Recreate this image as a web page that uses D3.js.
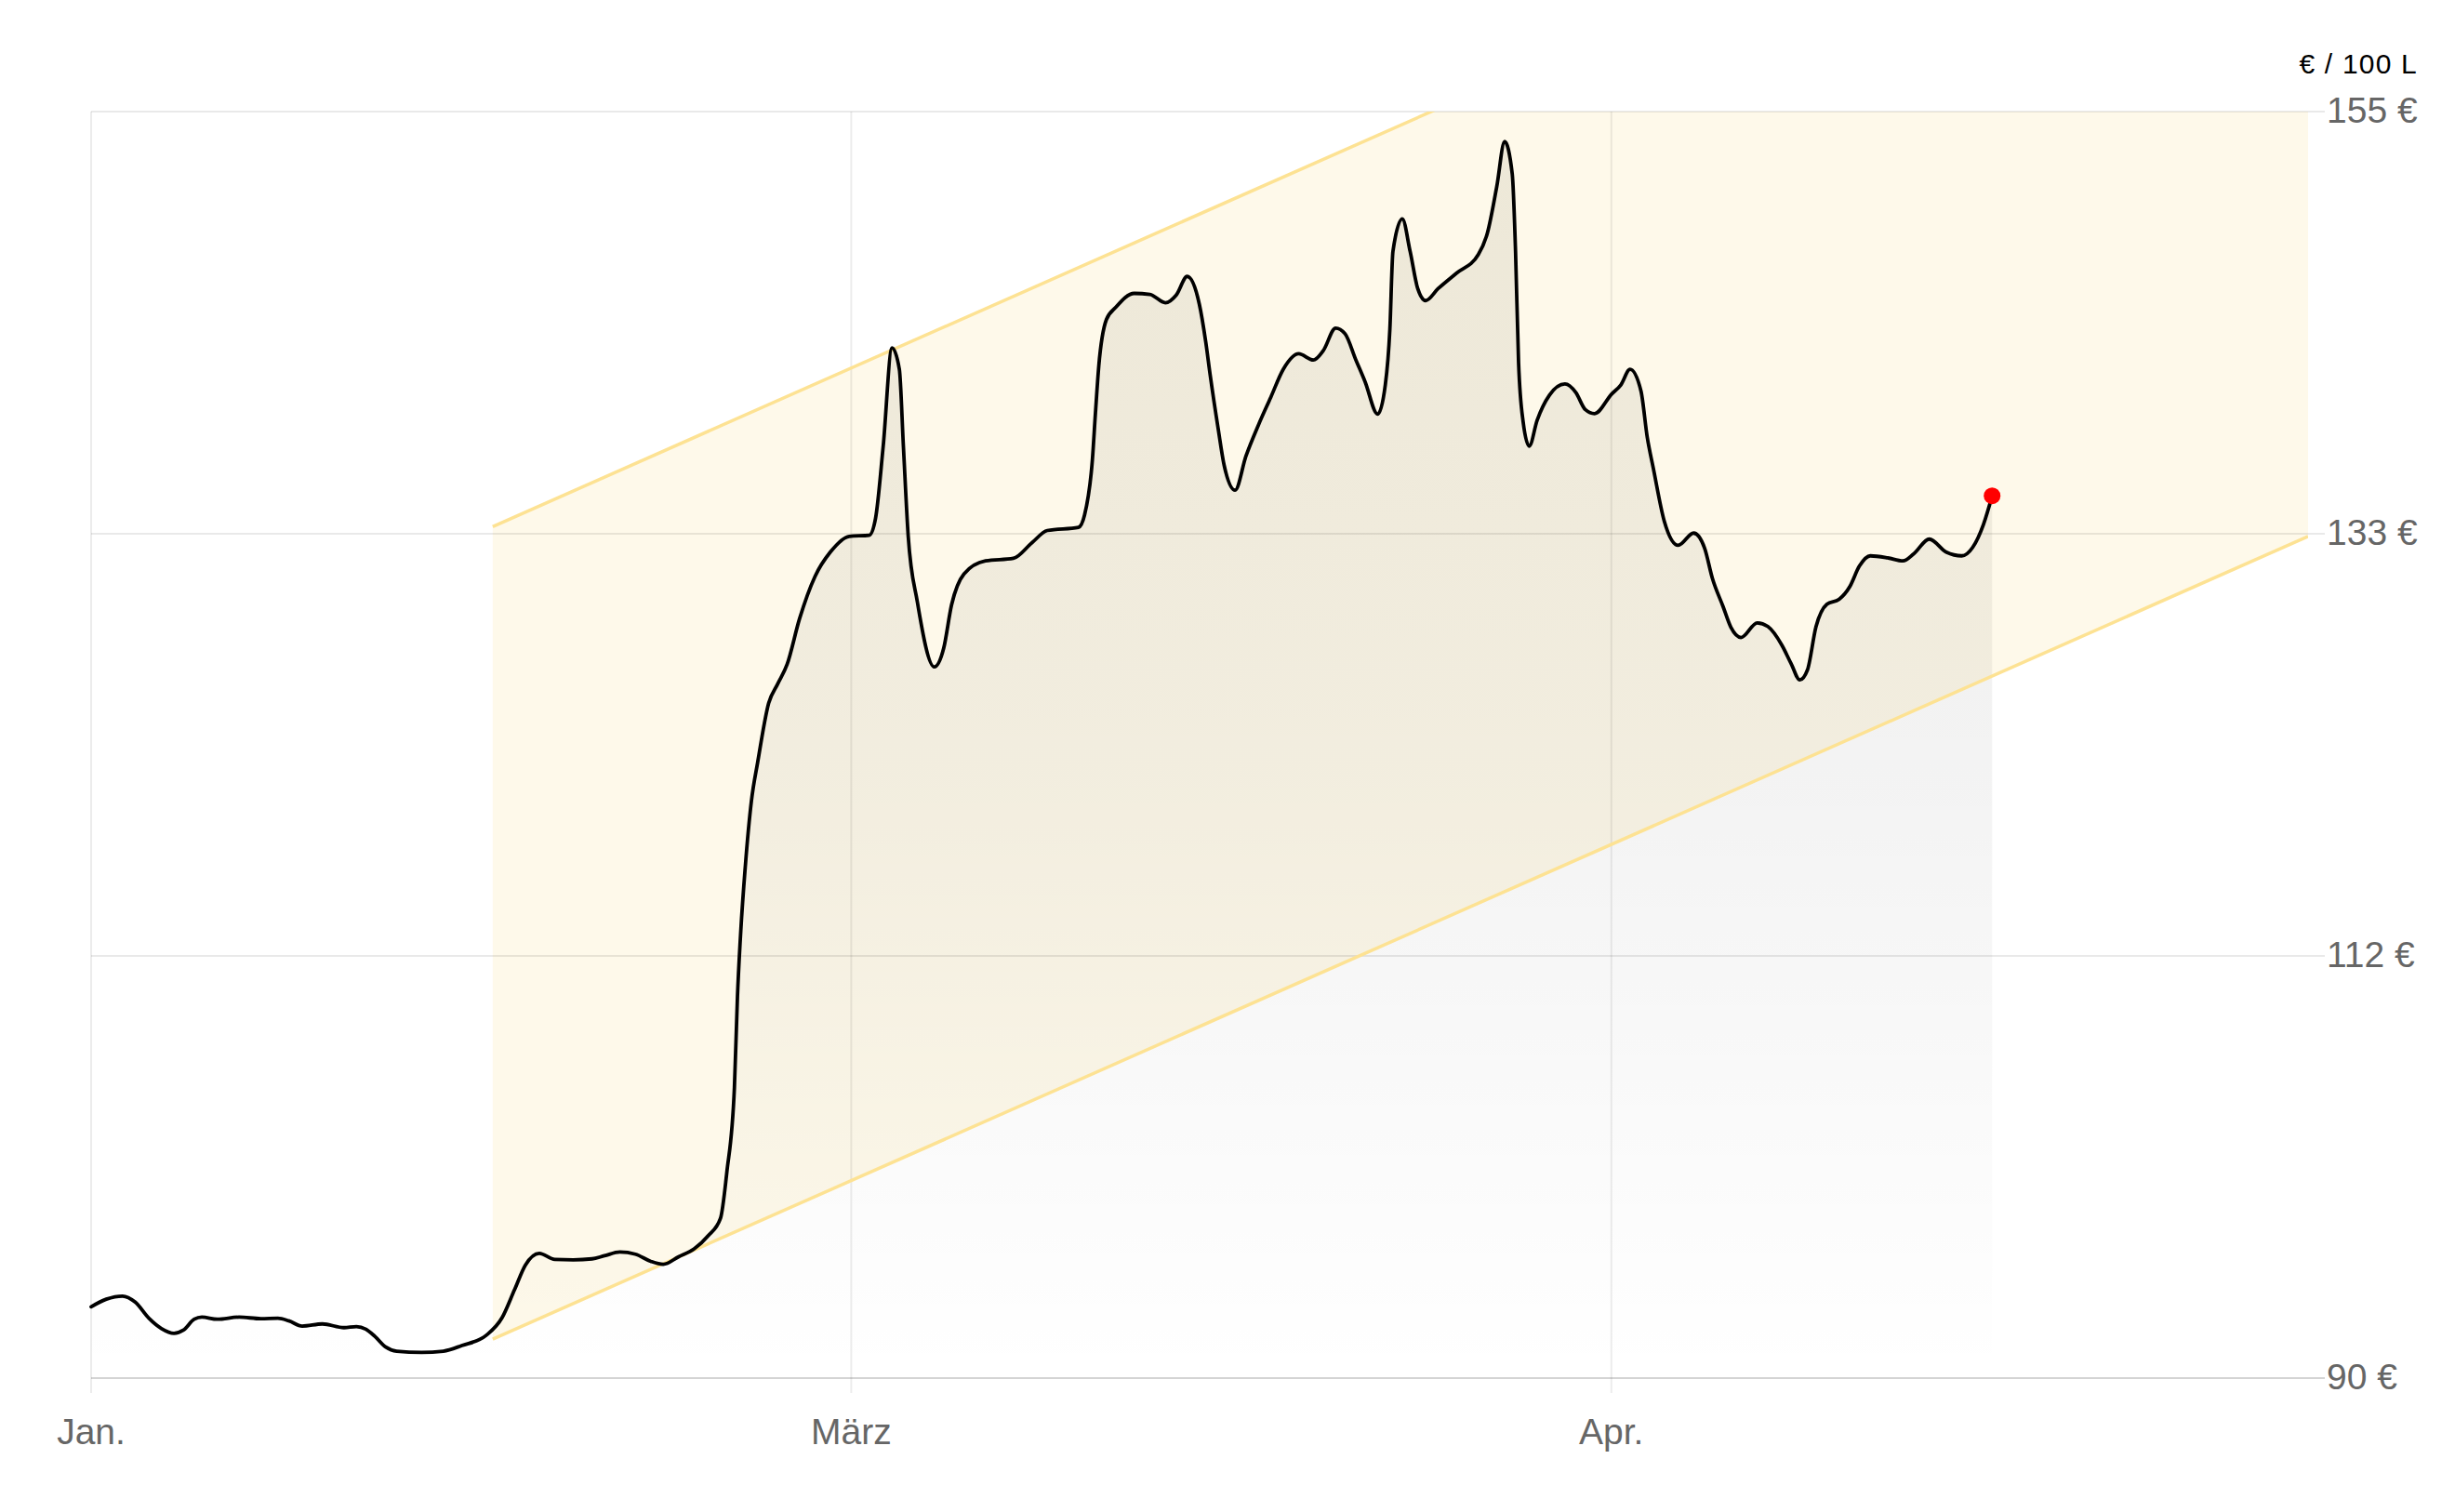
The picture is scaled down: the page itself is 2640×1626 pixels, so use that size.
<!DOCTYPE html>
<html>
<head>
<meta charset="utf-8">
<script src="https://cdn.jsdelivr.net/npm/d3@7/dist/d3.min.js"></script>
<style>
  html, body { margin: 0; padding: 0; background: #ffffff; }
  svg { display: block; }
  text { font-family: "Liberation Sans", Arial, sans-serif; }
</style>
</head>
<body>
<svg id="chart" width="2640" height="1626"></svg>
<script>
// ---- data ----
const days = [
  0.0, 0.6, 1.24, 1.74, 2.28, 2.78, 3.27, 3.64, 4.07, 4.37, 4.98, 5.84, 6.7, 7.37, 7.8, 8.33, 9.13, 9.98,
  10.47, 10.84, 11.2, 11.63, 12.06, 13.04, 13.9, 14.63, 15.6, 16.22, 16.71, 17.14, 17.69, 18.3, 19.03, 19.77,
  20.26, 20.87, 21.48, 22.09, 22.58, 23.19, 23.8, 24.35, 24.84, 25.09, 25.39, 25.51, 25.64, 25.82, 26.06, 26.31,
  26.74, 27.1, 27.47, 27.96, 28.57, 29.18, 29.92, 30.71, 30.96, 31.26, 31.61, 31.9, 32.06, 32.25, 32.61, 33.28,
  33.65, 33.96, 34.45, 35.3, 36.4, 37.13, 37.74, 38.97, 39.21, 39.52, 39.64, 39.77, 40.07, 40.44, 41.17, 41.79,
  42.4, 42.83, 43.26, 43.74, 43.99, 44.17, 44.48, 44.72, 45.15, 45.58, 46.07, 46.56, 47.05, 47.66, 48.24, 48.63,
  49.12, 49.49, 49.92, 50.28, 50.78, 51.08, 51.26, 51.38, 51.75, 52.06, 52.36, 52.67, 53.16, 53.89, 54.75, 55.11,
  55.48, 55.79, 56.09, 56.22, 56.34, 56.52, 56.76, 57.07, 57.56, 58.17, 58.6, 58.97, 59.34, 60.01, 60.38, 60.74,
  61.17, 61.42, 61.66, 62.09, 62.64, 63.25, 63.68, 63.99, 64.41, 64.72, 65.12, 65.76, 66.18, 66.73, 67.1, 67.44,
  67.74, 68.08, 68.51, 68.99, 69.42, 69.79, 70.22, 70.9, 71.51, 71.94, 72.55, 73.22, 73.83, 74.26, 74.69, 75.03
];
const prices = [
  93.66, 94.05, 94.21, 93.9, 93.07, 92.54, 92.3, 92.46, 93.02, 93.13, 93.02, 93.13, 93.05, 93.07, 92.94, 92.67, 92.78, 92.59,
  92.64, 92.51, 92.14, 91.59, 91.38, 91.32, 91.38, 91.67, 92.2, 93.1, 94.53, 95.8, 96.4, 96.09, 96.07, 96.12,
  96.28, 96.47, 96.36, 95.99, 95.84, 96.23, 96.63, 97.3, 98.2, 100.56, 104.92, 109.59, 112.93, 116.27, 119.61, 121.62,
  124.63, 125.63, 126.63, 128.97, 131.14, 132.4, 133.2, 133.26, 134.13, 137.8, 142.87, 141.77, 137.8, 133.2, 129.84, 126.5,
  127.46, 129.68, 131.27, 131.94, 132.07, 132.87, 133.5, 133.66, 134.3, 137.16, 139.55, 141.93, 144.32, 144.95, 145.67, 145.62,
  145.19, 145.59, 146.54, 145.11, 143.2, 141.46, 138.75, 136.84, 135.57, 137.32, 138.91, 140.34, 141.77, 142.57, 142.25, 142.73,
  143.89, 143.6, 142.25, 141.14, 139.47, 140.98, 143.84, 147.82, 149.49, 147.82, 145.91, 145.3, 145.91, 146.71, 147.66, 148.77,
  151.16, 153.46, 151.79, 147.82, 142.1, 139.07, 137.83, 139.15, 140.45, 141.02, 140.58, 139.71, 139.5, 140.5, 140.98, 141.77,
  140.66, 138.27, 136.68, 133.98, 132.74, 133.37, 132.6, 131.04, 129.6, 128.53, 128.01, 128.76, 128.57, 127.62, 126.66, 125.83,
  126.34, 128.57, 129.72, 129.97, 130.64, 131.67, 132.2, 132.1, 131.94, 132.31, 133.06, 132.39, 132.2, 132.63, 133.82, 135.28
];

// trend channel (start / end in days, lower and upper bounds)
const bandDays  = [15.85, 87.5];
const bandLower = [92.0, 133.2];
const bandUpper = [133.7, 174.9];

// axes
const xDomain = [0, 87.5];
const xTickValues = [0, 30, 60];
const xTickLabels = ["Jan.", "März", "Apr."];
const yDomain = [90, 155];
const yTickValues = [90, 111.667, 133.333, 155];
const yTickLabels = ["90 €", "112 €", "133 €", "155 €"];
const unitLabel = "€ / 100 L";

// ---- layout ----
const L = 98, R = 2482, T = 120, B = 1482;
const svg = d3.select("#chart");
const x = d3.scaleLinear().domain(xDomain).range([L, R]);
const y = d3.scaleLinear().domain(yDomain).range([B, T]);

const data = days.map((d, i) => ({ d: d, v: prices[i] }));

const defs = svg.append("defs");
defs.append("clipPath").attr("id", "plotClip")
  .append("rect").attr("x", L).attr("y", T).attr("width", R - L).attr("height", B - T);

const grad = defs.append("linearGradient").attr("id", "areaGrad")
  .attr("gradientUnits", "userSpaceOnUse")
  .attr("x1", 0).attr("x2", 0).attr("y1", y(155)).attr("y2", y(90));
grad.append("stop").attr("offset", 0).attr("stop-color", "#3a3010").attr("stop-opacity", 0.085);
grad.append("stop").attr("offset", 0.55).attr("stop-color", "#000000").attr("stop-opacity", 0.045);
grad.append("stop").attr("offset", 1).attr("stop-color", "#000000").attr("stop-opacity", 0.0);

// band fill
const bandPts = [
  [bandDays[0], bandLower[0]], [bandDays[1], bandLower[1]],
  [bandDays[1], bandUpper[1]], [bandDays[0], bandUpper[0]]
];
svg.append("path")
  .attr("clip-path", "url(#plotClip)")
  .attr("d", "M" + bandPts.map(p => [x(p[0]), y(p[1])].join(",")).join("L") + "Z")
  .attr("fill", "#fef9ea");

// grid lines
const grid = svg.append("g");
grid.selectAll("line.h").data(yTickValues).join("line")
  .attr("x1", L).attr("x2", 2500)
  .attr("y1", d => y(d)).attr("y2", d => y(d))
  .attr("stroke", d => d === yDomain[0] ? "#d4d4d4" : "rgba(0,0,0,0.085)")
  .attr("stroke-width", 2);
grid.selectAll("line.v").data(xTickValues).join("line")
  .attr("x1", d => x(d)).attr("x2", d => x(d))
  .attr("y1", T).attr("y2", B + 16)
  .attr("stroke", "rgba(0,0,0,0.075)")
  .attr("stroke-width", 2);

// area under the curve
const area = d3.area()
  .x(p => x(p.d)).y0(y(yDomain[0])).y1(p => y(p.v))
  .curve(d3.curveMonotoneX);
svg.append("path").datum(data)
  .attr("d", area)
  .attr("fill", "url(#areaGrad)");

// band lines
const bandLine = svg.append("g").attr("clip-path", "url(#plotClip)");
[bandLower, bandUpper].forEach(b => {
  bandLine.append("line")
    .attr("x1", x(bandDays[0])).attr("y1", y(b[0]))
    .attr("x2", x(bandDays[1])).attr("y2", y(b[1]))
    .attr("stroke", "#fde293")
    .attr("stroke-width", 3.5);
});

// price line
const line = d3.line().x(p => x(p.d)).y(p => y(p.v)).curve(d3.curveMonotoneX);
svg.append("path").datum(data)
  .attr("d", line)
  .attr("fill", "none")
  .attr("stroke", "#000")
  .attr("stroke-width", 3.8)
  .attr("stroke-linejoin", "round")
  .attr("stroke-linecap", "round");

// last point
const last = data[data.length - 1];
svg.append("circle")
  .attr("cx", x(last.d)).attr("cy", y(last.v)).attr("r", 9)
  .attr("fill", "#ff0000");

// y labels
svg.append("g").selectAll("text").data(yTickValues).join("text")
  .attr("x", 2502).attr("y", d => y(d))
  .attr("dy", "0.3em")
  .attr("font-size", 39)
  .attr("fill", "#666666")
  .text((d, i) => yTickLabels[i]);

// x labels
svg.append("g").selectAll("text").data(xTickValues).join("text")
  .attr("x", d => x(d)).attr("y", 1553)
  .attr("text-anchor", "middle")
  .attr("font-size", 39)
  .attr("fill", "#666666")
  .text((d, i) => xTickLabels[i]);

// unit label
svg.append("text")
  .attr("x", 2600).attr("y", 79)
  .attr("text-anchor", "end")
  .attr("font-size", 30)
  .attr("letter-spacing", 1.2)
  .attr("fill", "#000")
  .text(unitLabel);
</script>
</body>
</html>
